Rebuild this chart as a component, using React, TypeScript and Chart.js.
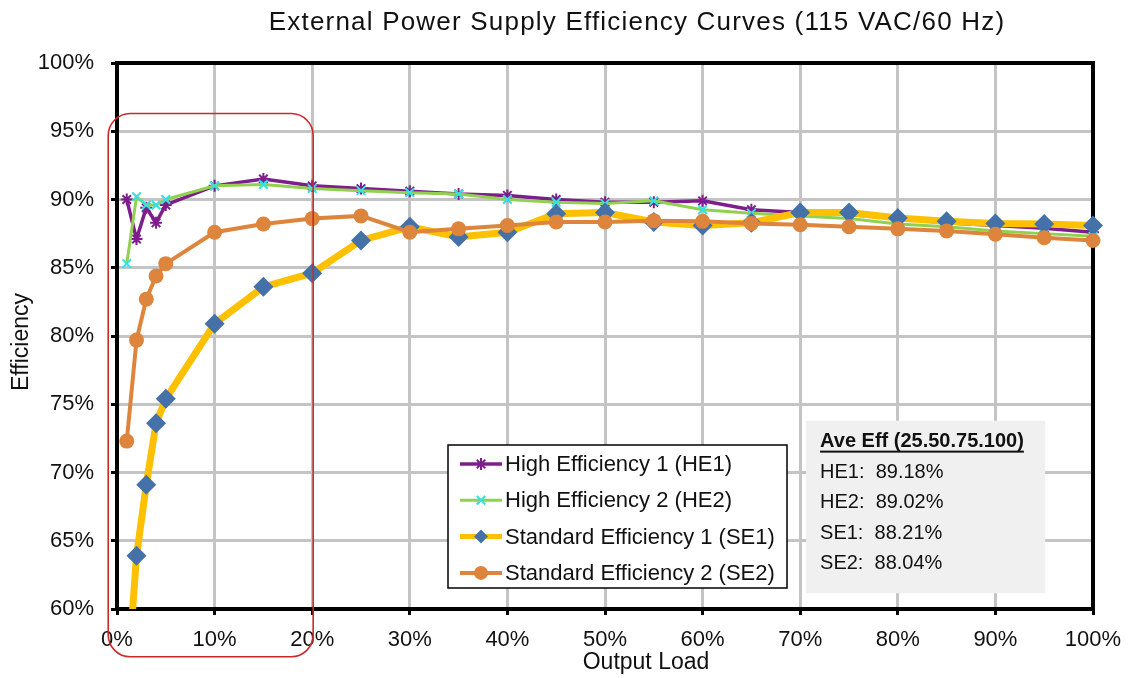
import React, { useEffect, useRef } from 'react';
import { Chart, registerables } from 'chart.js';

Chart.register(...registerables);

// ---- Data ----
const loads = [1, 2, 3, 4, 5, 10, 15, 20, 25, 30, 35, 40, 45, 50, 55, 60, 65, 70, 75, 80, 85, 90, 95, 100];
const he1 = [90.0, 87.1, 89.4, 88.3, 89.6, 91.0, 91.5, 91.0, 90.8, 90.6, 90.4, 90.3, 90.0, 89.8, 89.8, 89.9, 89.25, 89.05, 88.9, 88.6, 88.3, 88.1, 87.9, 87.6];
const he2 = [85.3, 90.2, 89.6, 89.6, 90.0, 91.0, 91.1, 90.8, 90.65, 90.5, 90.4, 90.0, 89.8, 89.7, 89.9, 89.25, 89.0, 88.8, 88.6, 88.2, 88.0, 87.7, 87.5, 87.3];
const se1 = [54.0, 63.9, 69.1, 73.6, 75.4, 80.9, 83.6, 84.6, 87.0, 88.0, 87.25, 87.6, 88.95, 89.05, 88.35, 88.1, 88.3, 89.05, 89.05, 88.65, 88.4, 88.25, 88.2, 88.1];
const se2 = [72.3, 79.7, 82.7, 84.4, 85.3, 87.6, 88.2, 88.6, 88.8, 87.6, 87.85, 88.1, 88.35, 88.35, 88.45, 88.4, 88.25, 88.15, 88.0, 87.85, 87.7, 87.45, 87.2, 87.0];

const seriesLabels = [
  'High Efficiency 1 (HE1)',
  'High Efficiency 2 (HE2)',
  'Standard Efficiency 1 (SE1)',
  'Standard Efficiency 2 (SE2)',
];
const titleText = 'External Power Supply Efficiency Curves (115 VAC/60 Hz)';
const xTitle = 'Output Load';
const yTitle = 'Efficiency';
const aveHeader = 'Ave Eff (25.50.75.100)';
const aveLines = ['HE1:  89.18%', 'HE2:  89.02%', 'SE1:  88.21%', 'SE2:  88.04%'];

const FONT = "'Liberation Sans', Arial, Helvetica, sans-serif";

const C_PURPLE = '#7E1E8C';
const C_GREEN = '#92D050';
const C_CYAN = '#2FE3E6';
const C_YELLOW = '#FFC000';
const C_BLUE = '#4472A8';
const C_ORANGE = '#DD853C';

const pts = (arr: number[]) => arr.map((y, i) => ({ x: loads[i], y }));

// Minimal point drawing for the legend samples
const drawSample = (ctx: CanvasRenderingContext2D, style: string, r: number, bw: number, x: number, y: number, fill: string, stroke: string) => {
  ctx.save();
  ctx.fillStyle = fill;
  ctx.strokeStyle = stroke;
  ctx.lineWidth = bw;
  ctx.beginPath();
  if (style === 'circle') {
    ctx.arc(x, y, r, 0, Math.PI * 2);
    ctx.fill();
  } else if (style === 'rectRot') {
    ctx.moveTo(x - r, y);
    ctx.lineTo(x, y - r);
    ctx.lineTo(x + r, y);
    ctx.lineTo(x, y + r);
    ctx.closePath();
    ctx.fill();
  } else {
    const d = r * Math.SQRT1_2;
    ctx.moveTo(x - d, y - d);
    ctx.lineTo(x + d, y + d);
    ctx.moveTo(x + d, y - d);
    ctx.lineTo(x - d, y + d);
    if (style === 'star') {
      ctx.moveTo(x, y - r);
      ctx.lineTo(x, y + r);
      ctx.moveTo(x - r, y);
      ctx.lineTo(x + r, y);
    }
    ctx.stroke();
  }
  ctx.restore();
};

const overlay = {
  id: 'overlay',
  beforeDatasetsDraw(chart: any) {
    const { ctx, chartArea: ca } = chart;
    ctx.save();
    ctx.strokeStyle = '#000';
    ctx.lineWidth = 4;
    ctx.strokeRect(ca.left, ca.top, ca.right - ca.left, ca.bottom - ca.top);
    ctx.restore();
  },
  afterDraw(chart: any) {
    const { ctx, chartArea: ca } = chart;
    const xs = chart.scales.x;
    const ys = chart.scales.y;
    ctx.save();
    ctx.fillStyle = '#111';
    // Title
    ctx.font = `26px ${FONT}`;
    ctx.textAlign = 'center';
    ctx.textBaseline = 'middle';
    (ctx as any).letterSpacing = '1.2px';
    ctx.fillText(titleText, 637, 23);
    (ctx as any).letterSpacing = '0px';
    // X title
    ctx.font = `23px ${FONT}`;
    ctx.fillText(xTitle, 646, 663);
    // Y title
    ctx.save();
    ctx.translate(22, 342);
    ctx.rotate(-Math.PI / 2);
    ctx.fillText(yTitle, 0, 0);
    ctx.restore();

    // Legend box
    const lx = ca.left + 331;
    const ly = ca.top + 382;
    const lw = 339;
    const lh = 143;
    ctx.fillStyle = '#fff';
    ctx.fillRect(lx, ly, lw, lh);
    ctx.strokeStyle = '#000';
    ctx.lineWidth = 1.5;
    ctx.strokeRect(lx, ly, lw, lh);
    const dsets = chart.data.datasets;
    for (let i = 0; i < 4; i++) {
      const d = dsets[i];
      const cy = ly + 19 + i * 36.3;
      ctx.strokeStyle = d.borderColor;
      ctx.lineWidth = Math.min(d.borderWidth, 5);
      ctx.beginPath();
      ctx.moveTo(lx + 12, cy);
      ctx.lineTo(lx + 54, cy);
      ctx.stroke();
      drawSample(ctx, d.pointStyle, Math.min(d.pointRadius, 7), d.pointBorderWidth, lx + 33, cy, d.pointBackgroundColor, d.pointBorderColor);
      ctx.fillStyle = '#111';
      ctx.font = `22px ${FONT}`;
      ctx.textAlign = 'left';
      ctx.textBaseline = 'middle';
      ctx.fillText(d.label, lx + 57, cy + 1);
    }

    // Average efficiency box
    const ax = xs.getPixelForValue(70.6);
    const ay = ys.getPixelForValue(73.8);
    const ax2 = xs.getPixelForValue(95.1);
    const ay2 = ys.getPixelForValue(61.15);
    ctx.fillStyle = '#F0F0F0';
    ctx.fillRect(ax, ay, ax2 - ax, ay2 - ay);
    ctx.fillStyle = '#111';
    ctx.textAlign = 'left';
    ctx.textBaseline = 'middle';
    ctx.font = `bold 20px ${FONT}`;
    ctx.fillText(aveHeader, ax + 14, ay + 21);
    const hw = ctx.measureText(aveHeader).width;
    ctx.fillRect(ax + 14, ay + 30, hw, 2);
    ctx.font = `20px ${FONT}`;
    aveLines.forEach((t, i) => {
      ctx.fillText(t, ax + 14, ay + 52 + i * 30.3);
    });

    // Red rounded highlight box
    const rx = xs.getPixelForValue(-0.9);
    const rx2 = xs.getPixelForValue(20.1);
    const ry = ys.getPixelForValue(96.3);
    const ry2 = ys.getPixelForValue(56.5);
    ctx.strokeStyle = '#CC2A2A';
    ctx.lineWidth = 1.6;
    ctx.beginPath();
    (ctx as any).roundRect(rx, ry, rx2 - rx, ry2 - ry, 22);
    ctx.stroke();
    ctx.restore();
  },
};

export default function App() {
  const ref = useRef<HTMLCanvasElement | null>(null);
  useEffect(() => {
    if (!ref.current) return;
    const clip = { left: 20, top: 20, right: 20, bottom: 0 };
    const chart = new Chart(ref.current, {
      type: 'line',
      data: {
        datasets: [
          {
            label: seriesLabels[0],
            data: pts(he1),
            borderColor: C_PURPLE,
            backgroundColor: C_PURPLE,
            borderWidth: 3.5,
            pointStyle: 'star',
            pointRadius: 6,
            pointBorderWidth: 2,
            pointBorderColor: C_PURPLE,
            pointBackgroundColor: C_PURPLE,
            order: 4,
            clip,
          } as any,
          {
            label: seriesLabels[1],
            data: pts(he2),
            borderColor: C_GREEN,
            backgroundColor: C_GREEN,
            borderWidth: 3,
            pointStyle: 'crossRot',
            pointRadius: 6,
            pointBorderWidth: 2,
            pointBorderColor: C_CYAN,
            pointBackgroundColor: C_CYAN,
            order: 3,
            clip,
          },
          {
            label: seriesLabels[2],
            data: pts(se1),
            borderColor: C_YELLOW,
            backgroundColor: C_BLUE,
            borderWidth: 7,
            pointStyle: 'rectRot',
            pointRadius: 10,
            pointBorderWidth: 0,
            pointBorderColor: C_BLUE,
            pointBackgroundColor: C_BLUE,
            order: 2,
            clip,
          },
          {
            label: seriesLabels[3],
            data: pts(se2),
            borderColor: C_ORANGE,
            backgroundColor: C_ORANGE,
            borderWidth: 4,
            pointStyle: 'circle',
            pointRadius: 7.5,
            pointBorderWidth: 0,
            pointBorderColor: C_ORANGE,
            pointBackgroundColor: C_ORANGE,
            order: 1,
            clip,
          },
        ],
      },
      options: {
        responsive: false,
        animation: false,
        events: [],
        layout: { padding: { top: 63, right: 37, left: 0, bottom: 0 } },
        plugins: {
          legend: { display: false },
          title: { display: false },
          tooltip: { enabled: false },
        },
        elements: { line: { tension: 0 } },
        scales: {
          x: {
            type: 'linear',
            min: 0,
            max: 100,
            ticks: {
              stepSize: 10,
              callback: (v: any) => `${v}%`,
              font: { family: FONT, size: 22 },
              color: '#111',
              padding: 12,
              maxRotation: 0,
            },
            grid: { color: '#C4C4C4', lineWidth: 3, tickColor: '#000', tickLength: 6, tickWidth: 3 },
            border: { display: false },
            afterFit: (s: any) => {
              s.height = 69;
              s.paddingLeft = 0;
              s.paddingRight = 0;
            },
          },
          y: {
            type: 'linear',
            min: 60,
            max: 100,
            ticks: {
              stepSize: 5,
              callback: (v: any) => `${v}%`,
              font: { family: FONT, size: 22 },
              color: '#111',
              padding: 17,
            },
            grid: { color: '#C4C4C4', lineWidth: 3, tickColor: '#000', tickLength: 6, tickWidth: 3 },
            border: { display: false },
            afterFit: (s: any) => {
              s.width = 117;
              s.paddingTop = 0;
              s.paddingBottom = 0;
            },
          },
        },
      },
      plugins: [overlay],
    });
    return () => chart.destroy();
  }, []);
  return (
    <div style={{ position: 'absolute', left: 0, top: 0, width: 1130, height: 678, background: '#fff' }}>
      <canvas ref={ref} width={1130} height={678} />
    </div>
  );
}
